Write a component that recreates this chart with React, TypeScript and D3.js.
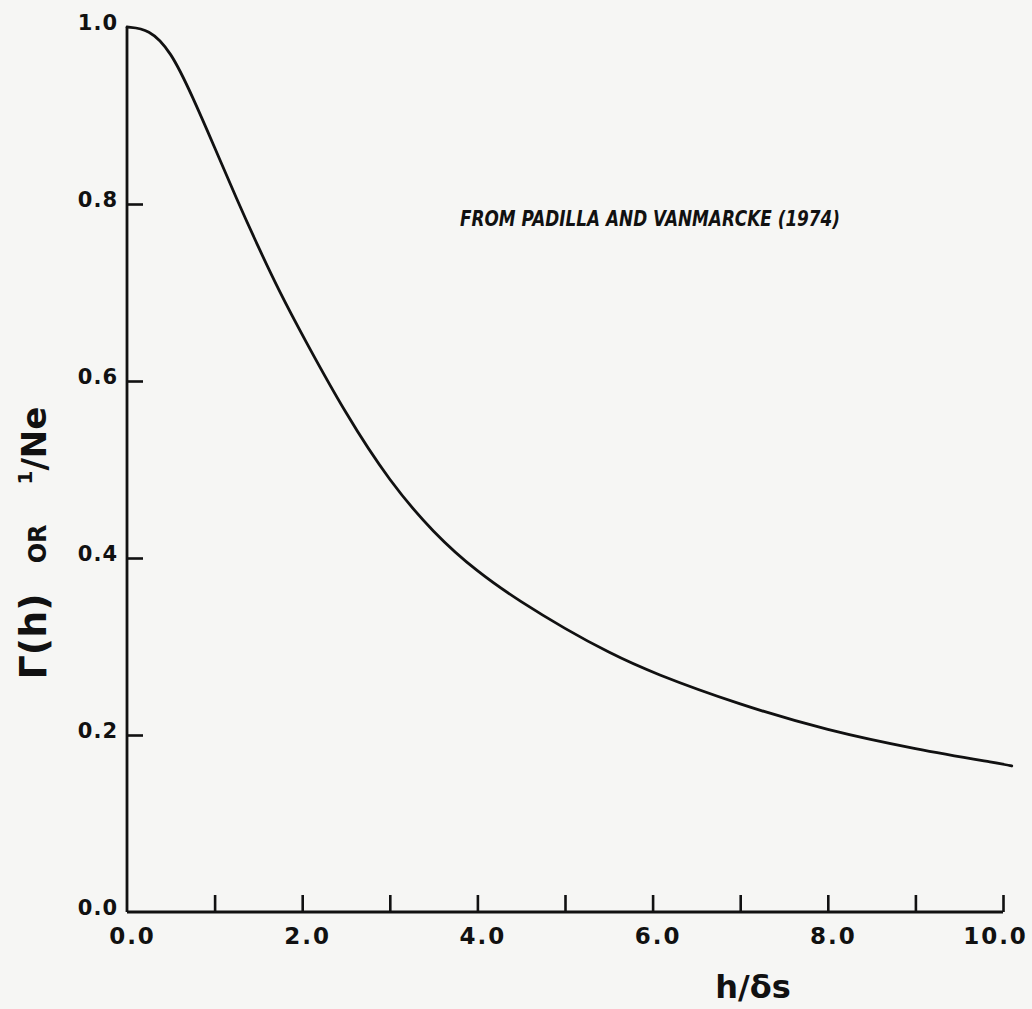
import React, { useEffect, useRef } from 'react';
import * as d3 from 'd3';

// curve: h/δs vs Γ(h)
const hValues = [0, 0.25, 0.5, 0.75, 1.0, 1.25, 1.5, 1.75, 2.0, 2.5, 3.0, 3.5, 4.0, 4.5, 5.0, 5.5, 6.0, 7.0, 8.0, 9.0, 10.0, 10.1];
const gammaValues = [1.0, 0.998, 0.973, 0.921, 0.864, 0.806, 0.751, 0.699, 0.652, 0.562, 0.486, 0.428, 0.384, 0.35, 0.32, 0.293, 0.27, 0.234, 0.205, 0.184, 0.167, 0.165];

const xTicks = [0, 1, 2, 3, 4, 5, 6, 7, 8, 9, 10];
const xTickLabels = ['0.0', '', '2.0', '', '4.0', '', '6.0', '', '8.0', '', '10.0'];
const yTicks = [0, 0.2, 0.4, 0.6, 0.8, 1.0];
const yTickLabels = ['0.0', '0.2', '0.4', '0.6', '0.8', '1.0'];
const note = 'FROM PADILLA AND VANMARCKE (1974)';

function App() {
  const ref = useRef<SVGSVGElement>(null);

  useEffect(() => {
    const width = 1032;
    const height = 1009;
    const font = '"DejaVu Sans", sans-serif';
    const ink = '#111';

    d3.select(ref.current).selectAll('*').remove();

    const svg = d3.select(ref.current)
      .attr('width', width)
      .attr('height', height);

    svg.append('rect')
      .attr('width', width)
      .attr('height', height)
      .attr('fill', '#f6f6f4');

    const x = d3.scaleLinear().domain([0, 10]).range([127, 1003]);
    const y = d3.scaleLinear().domain([0, 1]).range([912, 27]);

    // x axis, ticks pointing up
    const xAxis = svg.append('g')
      .attr('transform', `translate(0,${y(0)})`)
      .call(d3.axisBottom(x)
        .tickValues(xTicks)
        .tickSize(-17)
        .tickPadding(12)
        .tickFormat((_, i) => xTickLabels[i]));
    xAxis.select('.domain')
      .attr('d', `M${x(0)},0H${x(10)}`)
      .attr('stroke', ink)
      .attr('stroke-width', 2.8);
    xAxis.selectAll('.tick line')
      .attr('stroke', ink)
      .attr('stroke-width', 2.6)
      .filter((d) => d === 0)
      .remove();
    xAxis.selectAll('.tick text')
      .attr('fill', ink)
      .attr('font-family', font)
      .attr('font-size', 23)
      .attr('font-weight', 'bold')
      .attr('letter-spacing', 2)
      .attr('dy', '0.85em')
      .attr('dx', (d) => (d === 10 ? -8 : 5));

    // y axis, ticks pointing right
    const yAxis = svg.append('g')
      .attr('transform', `translate(${x(0)},0)`)
      .call(d3.axisLeft(y)
        .tickValues(yTicks)
        .tickSize(-16)
        .tickPadding(9)
        .tickFormat((_, i) => yTickLabels[i]));
    yAxis.select('.domain')
      .attr('d', `M0,${y(0)}V${y(1)}`)
      .attr('stroke', ink)
      .attr('stroke-width', 2.8);
    yAxis.selectAll('.tick line')
      .attr('stroke', ink)
      .attr('stroke-width', 2.6)
      .filter((d) => d === 0 || d === 1)
      .remove();
    yAxis.selectAll('.tick text')
      .attr('fill', ink)
      .attr('font-family', font)
      .attr('font-size', 21)
      .attr('font-weight', 'bold')
      .attr('letter-spacing', 1)
      .attr('dy', '0.1em');

    // the curve
    const line = d3.line<number>()
      .x((d) => x(d))
      .y((_, i) => y(gammaValues[i]))
      .curve(d3.curveBasis);

    svg.append('path')
      .datum(hValues)
      .attr('d', line)
      .attr('fill', 'none')
      .attr('stroke', ink)
      .attr('stroke-width', 2.8)
      .attr('stroke-linecap', 'round');

    // axis titles
    svg.append('text')
      .attr('x', 753)
      .attr('y', 998)
      .attr('text-anchor', 'middle')
      .attr('font-family', font)
      .attr('font-size', 32)
      .attr('font-weight', 'bold')
      .attr('fill', ink)
      .text('h/δs');

    const yTitle = svg.append('text')
      .attr('transform', 'translate(46,543) rotate(-90)')
      .attr('text-anchor', 'middle')
      .attr('font-family', font)
      .attr('font-weight', 'bold')
      .attr('fill', ink);
    yTitle.append('tspan').attr('font-size', 38).text('Γ(h)');
    yTitle.append('tspan').attr('font-size', 24).attr('dx', 30).text('OR');
    yTitle.append('tspan').attr('font-size', 20).attr('dx', 40).attr('dy', -14).text('1');
    yTitle.append('tspan').attr('font-size', 34).attr('dy', 14).text('/Ne');

    // source note
    svg.append('text')
      .attr('x', 460)
      .attr('y', 226)
      .attr('font-family', font)
      .attr('font-size', 22)
      .attr('font-style', 'italic')
      .attr('font-weight', 'bold')
      .attr('fill', ink)
      .attr('textLength', 380)
      .attr('lengthAdjust', 'spacingAndGlyphs')
      .text(note);
  }, []);

  return <svg ref={ref} style={{ position: 'absolute', left: 0, top: 0, display: 'block' }} />;
}

export default App;
